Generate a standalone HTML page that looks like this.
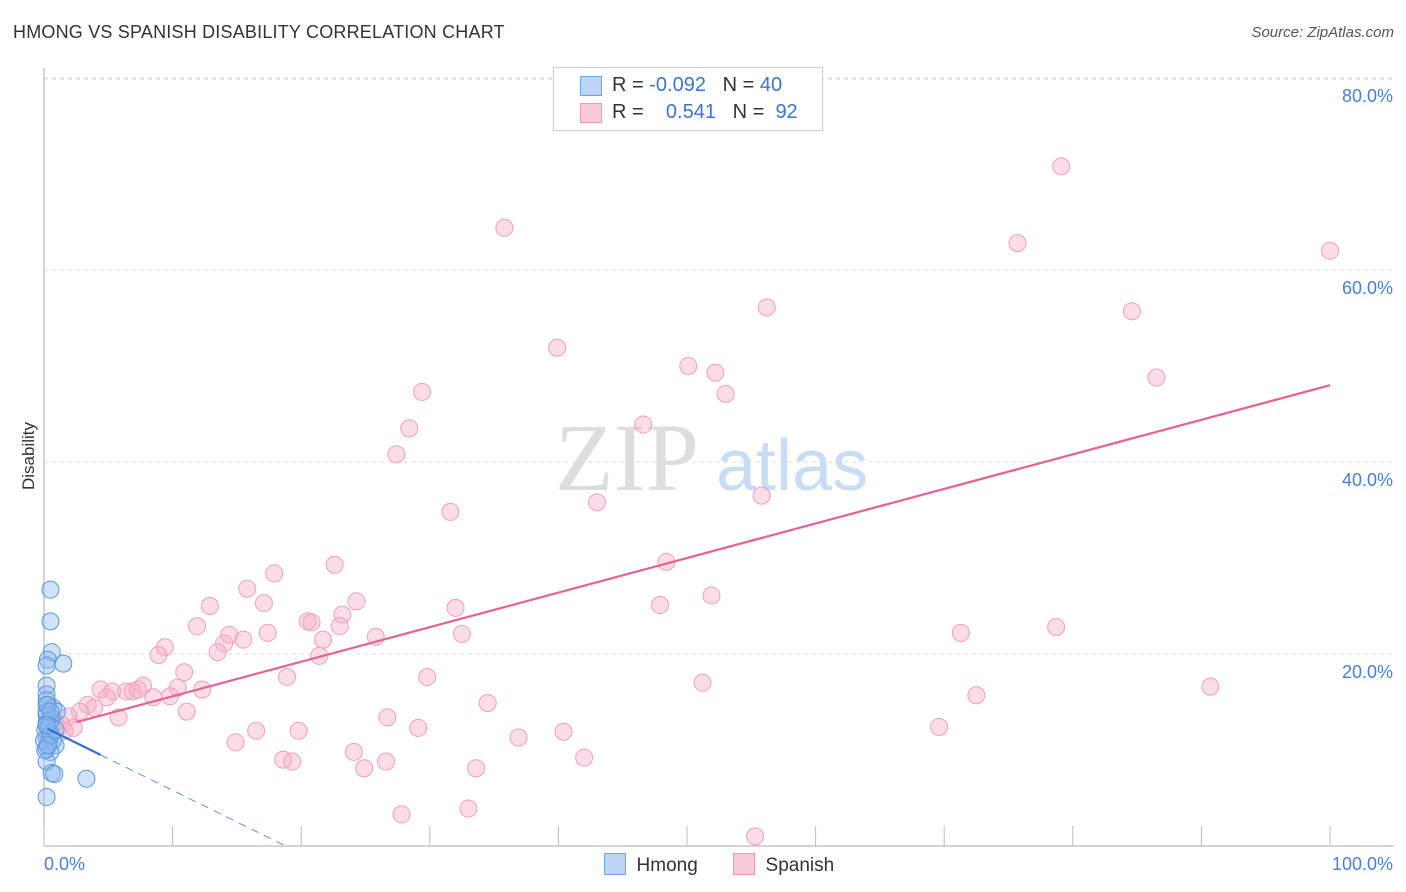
<!DOCTYPE html>
<html><head><meta charset="utf-8"><style>
body{margin:0;background:#fff;font-family:"Liberation Sans",sans-serif;}
#w{position:relative;width:1406px;height:892px;overflow:hidden}
</style></head><body><div id="w">
<div style="position:absolute;left:13px;top:22px;font-size:18px;color:#333;letter-spacing:0.2px">HMONG VS SPANISH DISABILITY CORRELATION CHART</div>
<div style="position:absolute;right:12px;top:24px;font-size:15px;color:#555;font-style:italic">Source: ZipAtlas.com</div>
<svg id="s" width="1406" height="892" style="position:absolute;left:0;top:0"></svg>
</div>
<script>
const yTicks=[20,40,60,80];
const yTickLabels=["20.0%","40.0%","60.0%","80.0%"];
const xTicks=[0,10,20,30,40,50,60,70,80,90,100];
const spanishX=[79.1,35.8,75.7,100,56.2,84.6,39.9,50.1,52.2,86.5,29.4,53.0,28.4,46.6,27.4,43.0,55.8,31.6,48.4,22.6,17.9,15.8,24.3,17.1,51.9,47.9,12.9,32.0,23.2,20.5,20.8,11.9,23.0,14.4,17.4,32.5,71.3,78.7,25.8,15.5,21.7,14.0,9.4,13.5,8.9,21.4,10.9,18.9,29.8,51.2,90.7,7.7,10.4,12.3,4.4,5.3,6.4,6.9,7.3,8.5,9.8,4.9,72.5,34.5,3.4,3.9,2.8,11.1,1.9,5.8,26.7,0.9,1.4,2.3,19.8,29.1,16.5,69.6,40.4,36.9,14.9,24.1,42.0,18.6,19.3,26.6,24.9,33.6,33.0,27.8,55.3,1.6];
const spanishY=[70.8,64.4,62.8,62.0,56.1,55.7,51.9,50.0,49.3,48.8,47.3,47.1,43.5,43.9,40.8,35.8,36.5,34.8,29.6,29.3,28.4,26.8,25.5,25.3,26.1,25.1,25.0,24.8,24.1,23.4,23.3,22.9,22.9,22.0,22.2,22.1,22.2,22.8,21.8,21.5,21.5,21.1,20.7,20.2,19.9,19.8,18.1,17.6,17.6,17.0,16.6,16.7,16.5,16.3,16.3,16.1,16.1,16.1,16.3,15.5,15.6,15.5,15.7,14.9,14.7,14.4,14.0,14.0,13.5,13.4,13.4,12.9,12.6,12.3,12.0,12.3,12.0,12.4,11.9,11.3,10.8,9.8,9.2,9.0,8.8,8.8,8.1,8.1,3.9,3.3,1.0,12.0];
const hmongX=[0.5,0.5,0.6,0.3,1.5,0.2,0.2,0.2,0.3,0.7,1.0,0.2,0.5,0.2,0.3,0.5,0.2,0.4,0.9,0.2,0.5,0.2,0.6,0.8,3.3,0.2,0.1,0.2,0.6,0,0.4,0.7,0.2,0.5,0.1,0.3,0.9,0.2,0.5,0.2];
const hmongY=[26.7,23.4,20.2,19.4,19.0,18.8,16.7,15.8,14.7,14.4,14.0,13.6,13.1,12.8,12.3,11.8,11.3,10.8,10.5,10.2,9.8,8.8,7.6,7.5,7.0,5.1,12.1,14.0,13.3,11.0,12.6,11.0,15.2,11.5,10.0,10.5,12.1,14.7,14.0,12.6];
const spanishTrend=[2.5,100,12.0,48.0];
const hmongTrend=[0.3,4.4,18.6,12.4,-0.66];
const X=v=>44+v*12.86, Y=v=>846-v*9.6;
const s=document.getElementById('s'),NS='http://www.w3.org/2000/svg';
function el(t,a){const e=document.createElementNS(NS,t);for(const k in a)e.setAttribute(k,a[k]);s.appendChild(e);return e;}
let e;
e=el('line',{x1:44,y1:79,x2:1394,y2:79,stroke:'#ddd','stroke-dasharray':'4,4'});


yTicks.forEach((t,i)=>{
 e=el('line',{x1:44,y1:Y(t),x2:1394,y2:Y(t),stroke:'#ddd','stroke-dasharray':'4,4'});
 
 
 e=el('text',{x:1393,y:Y(t)+24,'text-anchor':'end',fill:'#4a7fd6','font-size':18});
 e.textContent=yTickLabels[i];
 
 
});
e=el('line',{x1:44,y1:68,x2:44,y2:846,stroke:'#aaa'});


e=el('line',{x1:44,y1:846,x2:1394,y2:846,stroke:'#aaa'});


xTicks.forEach(t=>{
 e=el('line',{x1:X(t),y1:826,x2:X(t),y2:846,stroke:'#bbb'});
 
 
});
e=el('text',{x:44,y:870,fill:'#4a7fd6','font-size':18});e.textContent='0.0%';


e=el('text',{x:1393,y:870,'text-anchor':'end',fill:'#4a7fd6','font-size':18});e.textContent='100.0%';


e=el('text',{x:34,y:456,'text-anchor':'middle',fill:'#333','font-size':17,transform:'rotate(-90 34 456)'});e.textContent='Disability';


e=el('text',{x:555,y:490,fill:'#ddd','font-size':96,'font-family':'Liberation Serif'});e.textContent='ZIP';


e=el('text',{x:716,y:490,fill:'#c8dcf4','font-size':72});e.textContent='atlas';


spanishX.forEach((x,i)=>{
 e=el('circle',{cx:X(x),cy:Y(spanishY[i]),r:8.5,fill:'rgba(248,175,198,0.42)',stroke:'#efa0b9','stroke-width':1});
 
 
});
hmongX.forEach((x,i)=>{
 e=el('circle',{cx:X(x),cy:Y(hmongY[i]),r:8.5,fill:'rgba(140,185,240,0.42)',stroke:'#5b98e0','stroke-width':1});
 
 
});
const [sx0,sx1,si,se]=spanishTrend;const sl=(se-si)/100;
e=el('line',{x1:X(sx0),y1:Y(si+sl*sx0),x2:X(sx1),y2:Y(si+sl*sx1),stroke:'#e8628f','stroke-width':2.2});


const [h0,h1,h2,hi,hs]=hmongTrend;
e=el('line',{x1:X(h0),y1:Y(hi+hs*h0),x2:X(h1),y2:Y(hi+hs*h1),stroke:'#2f6fd0','stroke-width':2.2});


e=el('line',{x1:X(h1),y1:Y(hi+hs*h1),x2:X(h2),y2:Y(hi+hs*h2),stroke:'#5b98e0','stroke-width':1,'stroke-dasharray':'8,6'});


</script>
<div style="position:absolute;left:553px;top:67px;width:268px;height:62px;border:1px solid #ccc;background:#fff;font-size:20px;color:#333">
 <div style="position:absolute;left:26px;top:8px;width:20px;height:18px;background:#bcd5f5;border:1px solid #6fa3e6"></div>
 <div style="position:absolute;left:58px;top:6px">R = <span style="color:#3b74d4">-0.092</span>&nbsp;&nbsp;&nbsp;N = <span style="color:#3b74d4">40</span></div>
 <div style="position:absolute;left:26px;top:35px;width:20px;height:18px;background:#f9c9d8;border:1px solid #ee9ab5"></div>
 <div style="position:absolute;left:58px;top:33px">R = &nbsp;&nbsp;&nbsp;<span style="color:#3b74d4">0.541</span>&nbsp;&nbsp;&nbsp;N = &nbsp;<span style="color:#3b74d4">92</span></div>
</div>
<div style="position:absolute;left:604px;top:853px;font-size:19px;color:#333">
 <span style="display:inline-block;width:20px;height:20px;background:#bcd5f5;border:1px solid #6fa3e6;vertical-align:-4px"></span>&nbsp; Hmong</div>
<div style="position:absolute;left:733px;top:853px;font-size:19px;color:#333">
 <span style="display:inline-block;width:20px;height:20px;background:#f9c9d8;border:1px solid #ee9ab5;vertical-align:-4px"></span>&nbsp; Spanish</div>
</body></html>
